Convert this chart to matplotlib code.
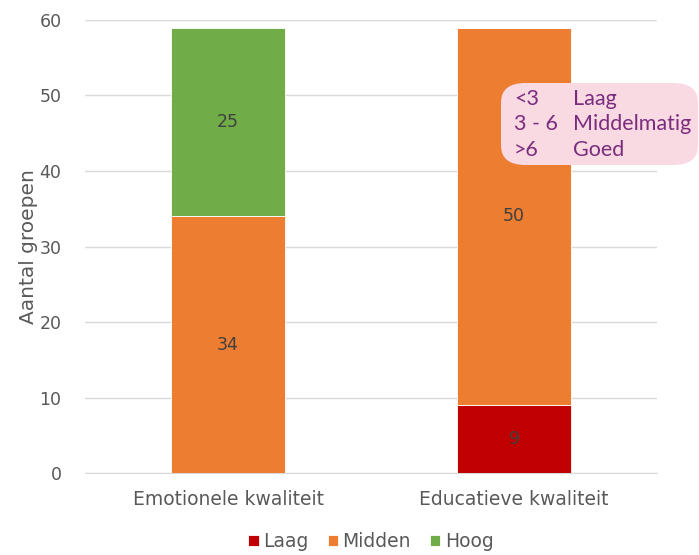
import matplotlib.pyplot as plt
import numpy as np
from matplotlib.patches import FancyBboxPatch

categories = ["Emotionele kwaliteit", "Educatieve kwaliteit"]
laag = [0, 9]
midden = [34, 50]
hoog = [25, 0]

series = [("Laag", laag, "#C00000"), ("Midden", midden, "#ED7D31"), ("Hoog", hoog, "#70AD47")]

plt.rcParams['font.family'] = ['DejaVu Sans']

fig = plt.figure(figsize=(6.99, 5.55), dpi=100)
ax = fig.add_axes([0.1216, 0.1477, 0.8184, 0.8163])

x = np.arange(len(categories))
bottom = np.zeros(len(categories))
for name, vals, col in series:
    vals = np.array(vals, dtype=float)
    ax.bar(x, vals, width=0.4, bottom=bottom, color=col, label=name,
           edgecolor="white", linewidth=0.6, zorder=3)
    for xi, b, v in zip(x, bottom, vals):
        if v > 0:
            ax.text(xi, b + v / 2, f"{int(v)}", ha="center", va="center",
                    fontsize=12.5, color="#404040", zorder=4)
    bottom += vals

ax.set_xlim(-0.5, 1.5)
ax.set_ylim(0, 60)
ax.set_yticks(range(0, 61, 10))
ax.set_xticks(x)
ax.set_xticklabels(categories)
ax.tick_params(axis="both", length=0, labelsize=12.5, labelcolor="#595959")
ax.tick_params(axis="y", pad=17)
ax.tick_params(axis="x", labelsize=13.5, pad=12)
ax.yaxis.grid(True, color="#D9D9D9", linewidth=1, zorder=0)
for s in ["top", "right", "left"]:
    ax.spines[s].set_visible(False)
ax.spines["bottom"].set_color("#D9D9D9")
ax.set_ylabel("Aantal groepen", fontsize=14.5, color="#595959", labelpad=1)

ax.legend(loc="center", bbox_to_anchor=(0.5, -0.152), ncol=3, frameon=False,
          fontsize=13.5, labelcolor="#595959", handlelength=0.55, handleheight=0.55,
          handletextpad=0.25, columnspacing=1.0, borderpad=0)

# threshold box
box = FancyBboxPatch((501 / 699, 1 - 165 / 555), 197 / 699, 82 / 555,
                     boxstyle="round,pad=0,rounding_size=0.035", transform=fig.transFigure,
                     facecolor="#F9D9E2", edgecolor="none", zorder=5)
fig.patches.append(box)
rows = [("<3", "Laag"), ("3 - 6", "Middelmatig"), (">6", "Goed")]
for i, (a, b) in enumerate(rows):
    yy = 1 - (99 + i * 25.5) / 555
    fig.text(514 / 699, yy, a, fontsize=15.5, color="#7B2C7E", va="center", family=["Lato", "DejaVu Sans"], zorder=6)
    fig.text(573 / 699, yy, b, fontsize=15.5, color="#7B2C7E", va="center", family=["Lato", "DejaVu Sans"], zorder=6)

fig.savefig("out.png", dpi=100)
